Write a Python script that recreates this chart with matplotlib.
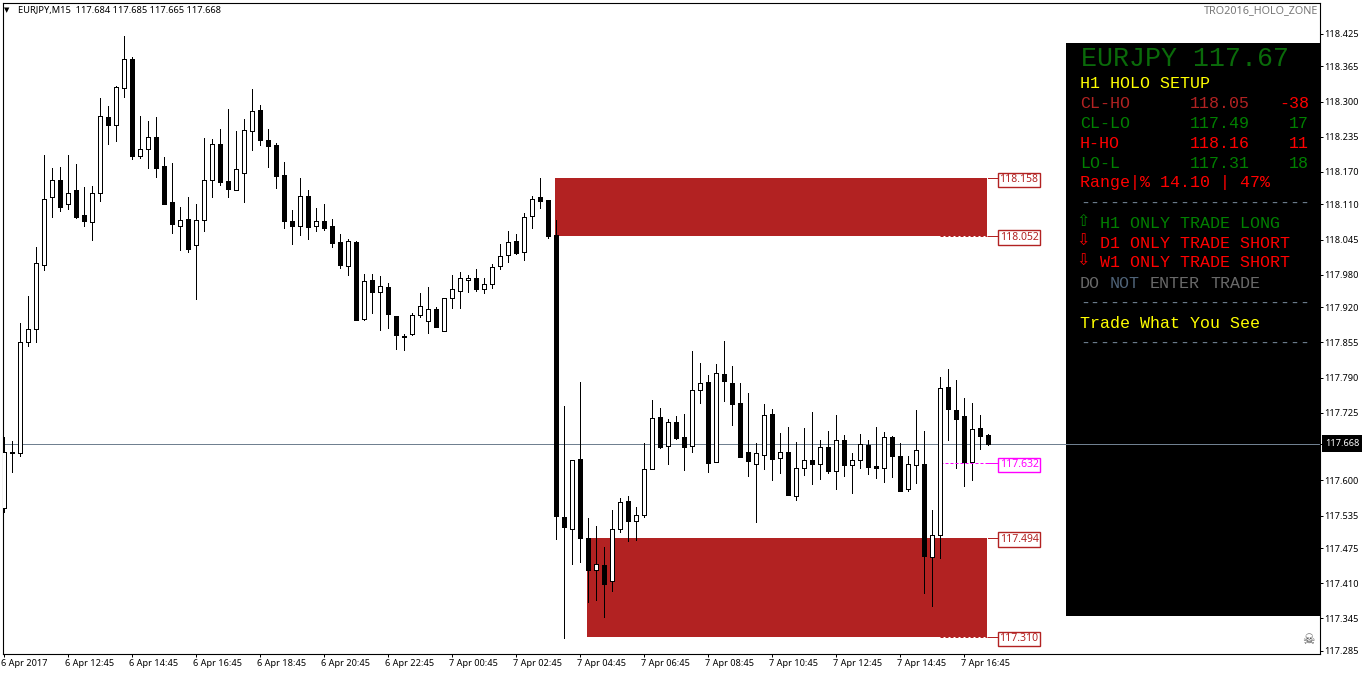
import matplotlib
matplotlib.use('Agg')
import numpy as np
import matplotlib.pyplot as plt
from matplotlib.patches import Rectangle
from matplotlib.transforms import ScaledTranslation

W, H = 1362, 675

opens = [117.549,117.652,117.651,117.855,117.879,117.999,118.123,118.155,118.110,118.137,118.091,118.078,118.132,118.272,118.257,118.326,
118.379,118.200,118.213,118.235,118.181,118.115,118.071,118.083,118.036,118.082,118.156,118.222,118.153,118.137,118.169,118.246,
118.285,118.229,118.220,118.165,118.080,118.071,118.126,118.071,118.080,118.070,118.041,117.997,118.041,117.899,117.971,117.948,
117.957,117.904,117.867,117.871,117.906,117.895,117.917,117.877,117.938,117.951,117.970,117.974,117.953,117.963,117.996,118.016,
118.042,118.022,118.088,118.124,118.118,118.054,117.532,117.511,117.640,117.494,117.435,117.444,117.415,117.511,117.562,117.526,
117.537,117.621,117.717,117.663,117.708,117.680,117.663,117.768,117.782,117.634,117.797,117.780,117.743,117.653,117.631,117.648,
117.723,117.642,117.653,117.572,117.624,117.638,117.631,117.662,117.618,117.675,117.629,117.637,117.665,117.627,117.624,117.680,
117.645,117.585,117.629,117.630,117.459,117.500,117.773,117.730,117.719,117.635,117.697,117.684]
highs = [117.680,117.673,117.891,117.941,118.031,118.201,118.177,118.179,118.201,118.185,118.142,118.144,118.307,118.292,118.329,118.421,
118.383,118.274,118.264,118.272,118.198,118.187,118.105,118.124,118.111,118.233,118.231,118.249,118.286,118.246,118.268,118.323,
118.294,118.249,118.224,118.188,118.100,118.159,118.137,118.103,118.111,118.083,118.055,118.046,118.042,117.982,117.982,117.977,
117.965,117.904,117.871,117.909,117.946,117.957,117.921,117.938,117.980,117.985,117.980,117.991,117.974,118.000,118.037,118.061,
118.055,118.094,118.126,118.159,118.118,118.081,117.737,117.638,117.782,117.531,117.516,117.477,117.546,117.568,117.571,117.551,
117.669,117.749,117.734,117.714,117.719,117.723,117.839,117.817,117.795,117.815,117.858,117.811,117.780,117.762,117.669,117.741,
117.732,117.687,117.699,117.671,117.697,117.727,117.675,117.691,117.721,117.684,117.651,117.686,117.675,117.699,117.690,117.682,
117.669,117.645,117.730,117.691,117.546,117.791,117.806,117.786,117.752,117.743,117.721,117.685]
lows = [117.542,117.616,117.646,117.849,117.855,117.989,118.087,118.098,118.102,118.085,118.070,118.044,118.116,118.222,118.227,118.309,
118.194,118.196,118.177,118.161,118.111,118.057,118.026,118.022,117.935,118.061,118.124,118.146,118.124,118.137,118.115,118.211,
118.220,118.179,118.140,118.067,118.037,118.053,118.046,118.061,118.063,118.031,117.993,117.980,117.897,117.897,117.909,117.878,
117.882,117.843,117.841,117.869,117.902,117.872,117.884,117.877,117.919,117.919,117.948,117.950,117.946,117.956,117.991,118.004,
118.018,118.007,118.067,118.103,118.048,117.492,117.309,117.446,117.449,117.375,117.379,117.348,117.396,117.505,117.488,117.490,
117.532,117.621,117.660,117.630,117.676,117.619,117.653,117.743,117.616,117.634,117.747,117.702,117.643,117.608,117.523,117.621,
117.601,117.614,117.573,117.564,117.610,117.594,117.603,117.614,117.584,117.608,117.577,117.623,117.612,117.605,117.597,117.607,
117.581,117.581,117.595,117.392,117.368,117.457,117.675,117.623,117.590,117.601,117.658,117.665]
closes = [117.652,117.651,117.855,117.879,118.001,118.120,118.155,118.106,118.131,118.087,118.080,118.131,118.273,118.257,118.327,118.378,
118.200,118.212,118.234,118.177,118.111,118.074,118.081,118.028,118.081,118.155,118.221,118.152,118.138,118.175,118.247,118.282,
118.229,118.218,118.163,118.080,118.070,118.125,118.068,118.079,118.067,118.039,117.998,118.042,117.897,117.968,117.948,117.959,
117.908,117.869,117.866,117.905,117.922,117.916,117.884,117.938,117.953,117.974,117.974,117.954,117.963,117.994,118.014,118.040,
118.020,118.086,118.121,118.116,118.052,117.534,117.514,117.637,117.494,117.435,117.445,117.409,117.510,117.560,117.525,117.537,
117.622,117.715,117.662,117.708,117.678,117.662,117.768,117.781,117.632,117.798,117.784,117.741,117.643,117.636,117.650,117.721,
117.640,117.652,117.573,117.624,117.637,117.630,117.661,117.618,117.674,117.629,117.637,117.667,117.625,117.623,117.680,117.645,
117.581,117.630,117.656,117.461,117.499,117.770,117.732,117.714,117.634,117.695,117.682,117.668]

# 117.660 sits under the current price box in the reference
price_ticks = [118.425,118.365,118.300,118.235,118.170,118.110,118.045,117.980,117.920,117.855,
               117.790,117.725,117.600,117.535,117.475,117.410,117.345,117.285]
time_ticks = list(range(0, 124, 8))
time_labels = ['6 Apr 2017','6 Apr 12:45','6 Apr 14:45','6 Apr 16:45','6 Apr 18:45','6 Apr 20:45',
               '6 Apr 22:45','7 Apr 00:45','7 Apr 02:45','7 Apr 04:45','7 Apr 06:45','7 Apr 08:45',
               '7 Apr 10:45','7 Apr 12:45','7 Apr 14:45','7 Apr 16:45']

current_price = 117.668
upper_zone = (118.052, 118.158)
lower_zone = (117.310, 117.494)
mid_level = 117.632

RED = '#B22222'
MONO = 'Liberation Mono'
SANS = 'Noto Sans'
LW = 0.72


def py(y):
    # chart pixel row -> price
    return 118.4878 - 0.0018477 * y

def px(x):
    # chart pixel column -> candle index
    return (x - 3.5) / 8

def ftext(x, y, s, color, size=12, family=MONO, **kw):
    kw.setdefault('ha', 'left')
    fig.text(x / W, 1 - y / H, s, color=color, fontsize=size, family=family, va='center', **kw)


fig = plt.figure(figsize=(W / 100, H / 100), dpi=100)
ax = fig.add_axes([2.5 / W, (H - 653.5) / H, 1317 / W, 651 / H])
ax.set_xlim(px(2.5), px(1319.5))
ax.set_ylim(py(653.5), py(2.5))

opens, highs, lows, closes = map(np.array, (opens, highs, lows, closes))
idx = np.arange(len(opens))
up = closes >= opens

# zones
ax.add_patch(Rectangle((px(555), upper_zone[0]), px(987) - px(555), upper_zone[1] - upper_zone[0], color=RED, lw=0, zorder=1))
ax.add_patch(Rectangle((px(587), lower_zone[0]), px(987) - px(587), lower_zone[1] - lower_zone[0], color=RED, lw=0, zorder=1))

# panel
ax.add_patch(Rectangle((px(1066), py(616)), px(1320) - px(1066), py(43) - py(616), color='black', lw=0, zorder=1.2))
ax.axhline(current_price, color='#708090', lw=LW, zorder=1.5)

# candles
ax.vlines(idx, lows, highs, color='black', lw=LW, zorder=2, antialiased=False)
ax.bar(idx[up], (closes - opens)[up], bottom=opens[up], width=0.5, facecolor='white',
       edgecolor='black', linewidth=LW, zorder=3, antialiased=False)
ax.bar(idx[~up], (closes - opens)[~up], bottom=opens[~up], width=0.5, facecolor='black',
       edgecolor='black', linewidth=LW, zorder=3, antialiased=False)

# level labels
for level in [upper_zone[1], upper_zone[0], lower_zone[1], lower_zone[0], mid_level]:
    col = 'magenta' if level == mid_level else RED
    ax.plot([px(988), px(998)], [level, level], color=col, lw=LW, zorder=2.5)
    ax.text(px(1019), level, '%.3f' % level, color=col, fontsize=7.5, family=SANS, ha='center', va='center_baseline',
            zorder=4, bbox=dict(boxstyle='square,pad=0.16', facecolor='white', edgecolor=col, lw=1.0))
for level, col in [(upper_zone[0], RED), (lower_zone[0], RED), (mid_level, 'magenta')]:
    ax.plot([117, px(998 if col == 'magenta' else 987)], [level, level], color=col, lw=LW, ls=(0, (3, 2)), zorder=2.5)

# axes
ax.yaxis.tick_right()
ax.set_yticks(price_ticks + [current_price])
ax.set_yticklabels(['%.3f' % p for p in price_ticks] + [''])
ax.set_xticks(time_ticks)
ax.set_xticklabels(time_labels, ha='left')
ax.tick_params(axis='both', length=2.5, width=LW, labelsize=6.6, labelfontfamily=SANS, pad=1.5)
shift = ScaledTranslation(-1.5 / 72, 0, fig.dpi_scale_trans)
for lab in ax.get_xticklabels():
    lab.set_transform(lab.get_transform() + shift)
for lab in ax.get_yticklabels():
    lab.set_transform(lab.get_transform() + ScaledTranslation(-0.7 / 72, 0, fig.dpi_scale_trans))
for s in ax.spines.values():
    s.set_linewidth(0.8)

ax.annotate('117.668', xy=(1, current_price), xycoords=ax.get_yaxis_transform(), xytext=(4.3, 0),
            textcoords='offset points', color='white', fontsize=6.6, family=SANS, va='center', ha='left',
            annotation_clip=False, zorder=5,
            bbox=dict(boxstyle='square,pad=0.42', facecolor='black', edgecolor='black', lw=0))

# header
ftext(7, 10, '\u25bc', 'black', size=5, family='DejaVu Sans', ha='center')
ftext(18, 10.5, 'EURJPY,M15  117.684 117.685 117.665 117.668', 'black', size=6.7, family=SANS)
ftext(1318, 11, 'TRO2016_HOLO_ZONE', '#777777', size=7.8, family=SANS, ha='right', fontweight='bold')
ftext(1308, 640, '\u2620', '#505050', size=10, family='DejaVu Sans', ha='center')

# panel text
ftext(1081, 59, 'EURJPY 117.67', '#0a6a0a', size=19.2)
ftext(1080, 83, 'H1 HOLO SETUP', 'yellow')

rows = [(103, 'CL-HO', '118.05', '-38', RED, RED, 'red'),
        (123, 'CL-LO', '117.49', '17', 'green', 'green', 'green'),
        (143, 'H-HO', '118.16', '11', 'red', 'red', 'red'),
        (163, 'LO-L', '117.31', '18', 'green', 'green', 'green')]
for y, name, val, pips, c1, c2, c3 in rows:
    ftext(1080, y, name, c1)
    ftext(1190, y, val, c2)
    ftext(1309, y, pips, c3, ha='right')
ftext(1080, 183, 'Range|% 14.10 | 47%', 'red')
for y in [203, 303, 343]:
    ftext(1080, y, '-' * 23, '#708090')

signals = [(223, '\u21e7', 'H1 ONLY TRADE LONG', 'green'),
           (243, '\u21e9', 'D1 ONLY TRADE SHORT', 'red'),
           (263, '\u21e9', 'W1 ONLY TRADE SHORT', 'red')]
for y, arrow, s, col in signals:
    ftext(1083, y - 2, arrow, col, size=11.5, family='DejaVu Sans', ha='center')
    ftext(1100, y, s, col)

for x, word, col in [(1080, 'DO', '#696969'), (1110, 'NOT', '#4f6378'), (1150, 'ENTER', '#696969'), (1210, 'TRADE', '#696969')]:
    ftext(x, 283, word, col)
ftext(1080, 323, 'Trade What You See', 'yellow')

fig.savefig('out.png', dpi=100)
